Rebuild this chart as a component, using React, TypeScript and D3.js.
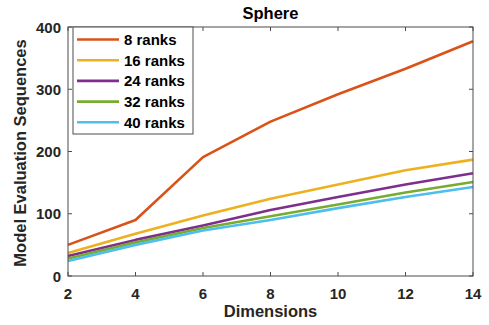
import React from "react";
import * as d3 from "d3";

const dims = [2, 4, 6, 8, 10, 12, 14];
const seriesNames = ["8 ranks", "16 ranks", "24 ranks", "32 ranks", "40 ranks"];
const ranks8 = [50, 90, 191, 248, 292, 333, 377];
const ranks16 = [37, 68, 97, 124, 147, 170, 187];
const ranks24 = [32, 58, 81, 106, 127, 147, 165];
const ranks32 = [28, 54, 77, 96, 115, 134, 151];
const ranks40 = [24, 50, 73, 90, 109, 127, 143];
const colors = ["#D95319", "#EDB120", "#7E2F8E", "#77AC30", "#4DBEEE"];
const xTicks = [2, 4, 6, 8, 10, 12, 14];
const yTicks = [0, 100, 200, 300, 400];

const W = 489;
const H = 325;
const left = 68;
const right = 473;
const top = 27;
const bottom = 276;
const font = "'Liberation Sans', Arial, Helvetica, sans-serif";
const axisColor = "#4d4d4d";
const lineWidth = 2.6;

export default function App() {
  const x = d3.scaleLinear().domain([2, 14]).range([left, right]);
  const y = d3.scaleLinear().domain([0, 400]).range([bottom, top]);
  const all = [ranks8, ranks16, ranks24, ranks32, ranks40];
  const line = d3
    .line<number>()
    .x((_, i) => x(dims[i]))
    .y((d) => y(d));
  const tickLen = 4;

  return (
    <svg
      width={W}
      height={H}
      style={{ position: "absolute", left: 0, top: 0, background: "#fff" }}
      fontFamily={font}
      fontWeight="bold"
    >
      {/* series lines */}
      <g fill="none" strokeWidth={lineWidth} strokeLinejoin="round">
        {all.map((s, i) => (
          <path key={i} d={line(s) || ""} stroke={colors[i]} />
        ))}
      </g>

      {/* axes box */}
      <rect
        x={left}
        y={top}
        width={right - left}
        height={bottom - top}
        fill="none"
        stroke={axisColor}
        strokeWidth={1}
      />
      {xTicks.map((t) => (
        <g key={"x" + t}>
          <line x1={x(t)} x2={x(t)} y1={bottom} y2={bottom - tickLen} stroke={axisColor} />
          <line x1={x(t)} x2={x(t)} y1={top} y2={top + tickLen} stroke={axisColor} />
          <text x={x(t)} y={299} fontSize={15} textAnchor="middle" fill="#262626">
            {t}
          </text>
        </g>
      ))}
      {yTicks.map((t) => (
        <g key={"y" + t}>
          <line x1={left} x2={left + tickLen} y1={y(t)} y2={y(t)} stroke={axisColor} />
          <line x1={right} x2={right - tickLen} y1={y(t)} y2={y(t)} stroke={axisColor} />
          <text x={61} y={y(t) + 5.5} fontSize={15} textAnchor="end" fill="#262626">
            {t}
          </text>
        </g>
      ))}

      {/* title and axis labels */}
      <text x={(left + right) / 2} y={19} fontSize={16.5} textAnchor="middle" fill="#000">
        Sphere
      </text>
      <text x={(left + right) / 2} y={317} fontSize={16.5} textAnchor="middle" fill="#262626">
        Dimensions
      </text>
      <text
        transform={`translate(26, ${153}) rotate(-90)`}
        fontSize={16.5}
        textAnchor="middle"
        fill="#262626"
      >
        Model Evaluation Sequences
      </text>

      {/* legend */}
      <rect x={73} y={27} width={120} height={107} fill="#fff" stroke={axisColor} strokeWidth={1} />
      {seriesNames.map((n, i) => {
        const ly = 39.5 + i * 20.7;
        return (
          <g key={n}>
            <line x1={77} x2={119} y1={ly} y2={ly} stroke={colors[i]} strokeWidth={lineWidth} />
            <text x={124} y={ly + 5.5} fontSize={15} fill="#000">
              {n}
            </text>
          </g>
        );
      })}
    </svg>
  );
}
